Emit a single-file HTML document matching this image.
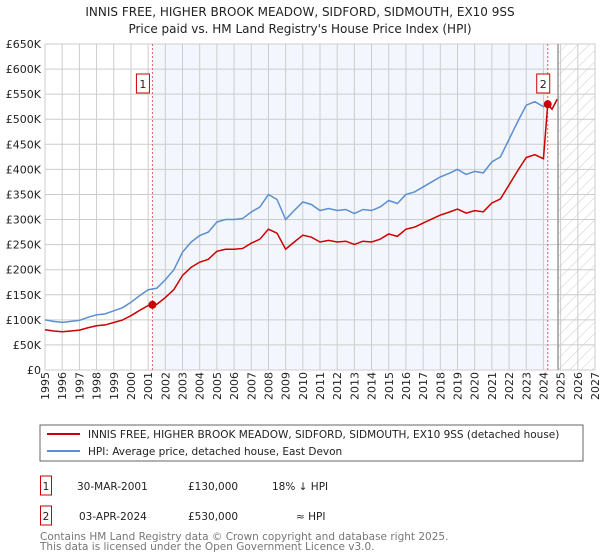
<!DOCTYPE html>
<html><head><meta charset="utf-8"><style>
body{margin:0;background:#fff;font-family:"DejaVu Sans","Liberation Sans",sans-serif;}
svg{display:block}
</style></head><body>
<svg id="c" width="600" height="560" xmlns="http://www.w3.org/2000/svg">
<defs><pattern id="h" width="8" height="8" patternUnits="userSpaceOnUse" patternTransform="rotate(45)"><line x1="0" y1="0" x2="0" y2="8" stroke="#ccc" stroke-width="1"/></pattern></defs>
<text x="300" y="16" text-anchor="middle" font-size="12" fill="#222">INNIS FREE, HIGHER BROOK MEADOW, SIDFORD, SIDMOUTH, EX10 9SS</text>
<text x="300" y="33" text-anchor="middle" font-size="12" fill="#222">Price paid vs. HM Land Registry's House Price Index (HPI)</text>
<g id="plot"></g>
<rect x="40" y="425" width="543" height="36" fill="#fff" stroke="#666"/>
<line x1="47" y1="434" x2="80" y2="434" stroke="#cc0000" stroke-width="2"/>
<text x="88" y="438" font-size="10.5" fill="#222">INNIS FREE, HIGHER BROOK MEADOW, SIDFORD, SIDMOUTH, EX10 9SS (detached house)</text>
<line x1="47" y1="451" x2="80" y2="451" stroke="#5b8fd0" stroke-width="2"/>
<text x="88" y="455" font-size="10.5" fill="#222">HPI: Average price, detached house, East Devon</text>
<rect x="40.5" y="476" width="11" height="19" fill="#fff" stroke="#cc0000"/>
<text x="46" y="490" text-anchor="middle" font-size="10.5" fill="#222">1</text>
<text x="77" y="490" font-size="10.5" fill="#222">30-MAR-2001</text>
<text x="188" y="490" font-size="10.5" fill="#222">£130,000</text>
<text x="272" y="490" font-size="10.5" fill="#222">18% ↓ HPI</text>
<rect x="40.5" y="506" width="11" height="19" fill="#fff" stroke="#cc0000"/>
<text x="46" y="520" text-anchor="middle" font-size="10.5" fill="#222">2</text>
<text x="79" y="520" font-size="10.5" fill="#222">03-APR-2024</text>
<text x="188" y="520" font-size="10.5" fill="#222">£530,000</text>
<text x="296" y="520" font-size="10.5" fill="#222">≈ HPI</text>
<text x="40" y="540" font-size="10.5" fill="#777">Contains HM Land Registry data © Crown copyright and database right 2025.</text>
<text x="40" y="550" font-size="10.5" fill="#777">This data is licensed under the Open Government Licence v3.0.</text>
</svg>
<script>
const hpiYears=[1995,1995.5,1996,1996.5,1997,1997.5,1998,1998.5,1999,1999.5,2000,2000.5,2001,2001.5,2002,2002.5,2003,2003.5,2004,2004.5,2005,2005.5,2006,2006.5,2007,2007.5,2008,2008.5,2009,2009.5,2010,2010.5,2011,2011.5,2012,2012.5,2013,2013.5,2014,2014.5,2015,2015.5,2016,2016.5,2017,2017.5,2018,2018.5,2019,2019.5,2020,2020.5,2021,2021.5,2022,2022.5,2023,2023.5,2024,2024.25,2024.5,2024.8];
const hpiValues=[100,97,95,97,99,105,110,112,118,124,135,148,160,163,180,200,235,255,268,275,295,300,300,302,315,325,350,340,300,318,335,330,318,322,318,320,312,320,318,325,338,332,350,355,365,375,385,392,400,390,396,393,415,425,460,495,528,535,525,530,520,540];
const saleDates=[2001.25,2024.25];
const salePrices=[130,530];
const yTicks=[0,50,100,150,200,250,300,350,400,450,500,550,600,650];
const yTickLabels=["£0","£50K","£100K","£150K","£200K","£250K","£300K","£350K","£400K","£450K","£500K","£550K","£600K","£650K"];
const xTicks=[1995,1996,1997,1998,1999,2000,2001,2002,2003,2004,2005,2006,2007,2008,2009,2010,2011,2012,2013,2014,2015,2016,2017,2018,2019,2020,2021,2022,2023,2024,2025,2026,2027];
const X0=45,X1=595,Y0=370,Y1=44;
const xs=v=>X0+(v-1995)/(2027-1995)*(X1-X0);
const ys=v=>Y0-v/650*(Y0-Y1);
const NS="http://www.w3.org/2000/svg";
const g=document.getElementById('plot');
function mk(t,a){const e=document.createElementNS(NS,t);for(const k in a)e.setAttribute(k,a[k]);g.appendChild(e);return e;}
let e;
e=mk('rect',{x:xs(saleDates[0]),y:Y1,width:xs(saleDates[1])-xs(saleDates[0]),height:Y0-Y1,fill:'#eef3fc',opacity:0.7});


const fEnd=2024.85;
e=mk('rect',{x:xs(fEnd),y:Y1,width:X1-xs(fEnd),height:Y0-Y1,fill:'url(#h)'});


yTicks.forEach((v,i)=>{
 e=mk('line',{x1:X0,x2:X1,y1:ys(v),y2:ys(v),stroke:'#ccc'});
 
 
 e=mk('text',{x:X0-4,y:ys(v)+4,'text-anchor':'end','font-size':11,fill:'#222'});e.textContent=yTickLabels[i];
 
 
});
xTicks.forEach(v=>{
 e=mk('line',{x1:xs(v),x2:xs(v),y1:Y1,y2:Y0,stroke:'#ccc'});
 
 
 e=mk('text',{x:0,y:0,transform:`translate(${xs(v)+4},400) rotate(-90)`,'font-size':11,fill:'#222'});e.textContent=v;
 
 
});
e=mk('rect',{x:X0,y:Y1,width:X1-X0,height:Y0-Y1,fill:'none',stroke:'#ccc'});
e=mk('line',{x1:xs(fEnd),x2:xs(fEnd),y1:Y1,y2:Y0,stroke:'#999','stroke-width':1.5});


saleDates.forEach((d,i)=>{
 e=mk('line',{x1:xs(d),x2:xs(d),y1:Y1,y2:Y0,stroke:'#e06060','stroke-dasharray':'2,2'});
 
 
});
e=mk('polyline',{points:hpiYears.map((y,i)=>xs(y)+','+ys(hpiValues[i])).join(' '),fill:'none',stroke:'#5b8fd0','stroke-width':1.5});


// property line: indexed from HPI by sale ratios
const pts=[];
hpiYears.forEach((y,i)=>{
 let k=y<saleDates[1]?0:1;
 if(y<saleDates[1]&&hpiYears[i+1]!==undefined&&hpiYears[i+1]>=saleDates[1]){pts.push([y,hpiValues[i]*salePrices[0]/162]);pts.push([saleDates[1],salePrices[1]]);return;}
 const base=k==0?162:530;
 pts.push([y,hpiValues[i]*salePrices[k]/base]);
});
e=mk('polyline',{points:pts.filter(p=>!(p[0]===saleDates[1]&&false)).map(p=>xs(p[0])+','+ys(p[1])).join(' '),fill:'none',stroke:'#cc0000','stroke-width':1.5});


saleDates.forEach((d,i)=>{
 e=mk('circle',{cx:xs(d),cy:ys(salePrices[i]),r:4,fill:'#cc0000'});
 
 
 const bx=xs(d)-(i==0?10:5);
 e=mk('rect',{x:bx-6,y:74,width:13,height:19,fill:'#fff',stroke:'#cc0000'});
 
 
 e=mk('text',{x:bx+0.5,y:88,'text-anchor':'middle','font-size':11,fill:'#222'});e.textContent=String(i+1);
 
 
});
</script>
</body></html>
